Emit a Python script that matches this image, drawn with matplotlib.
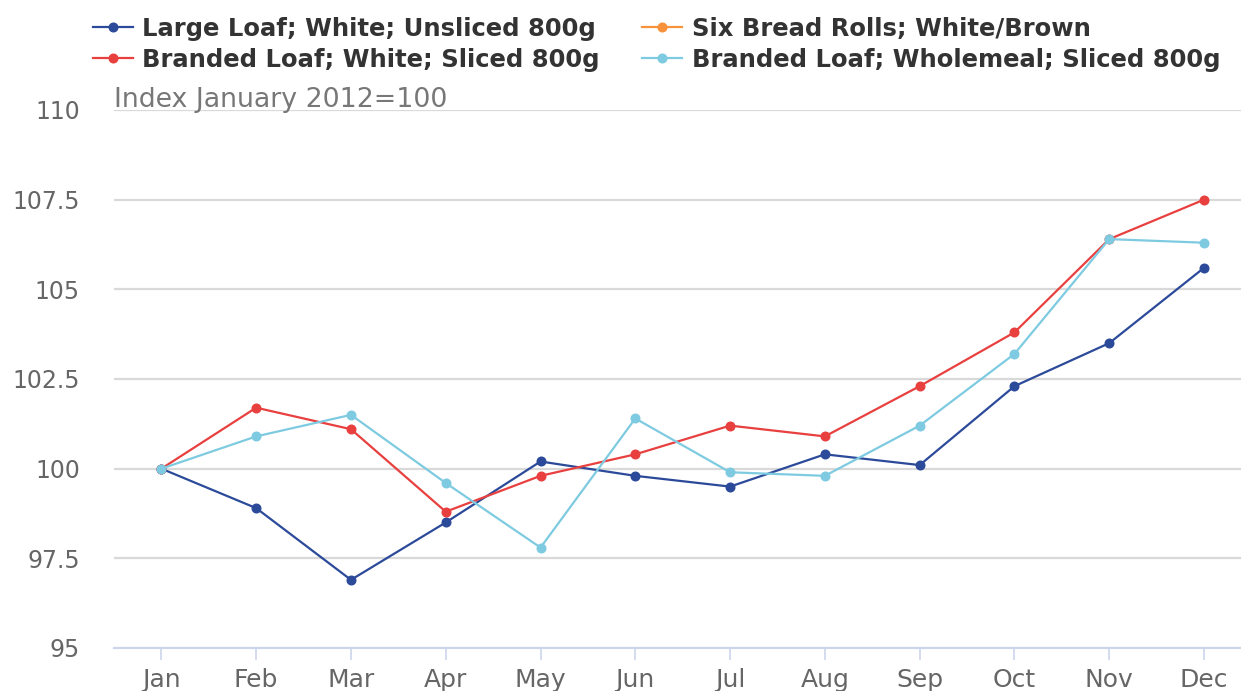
import matplotlib.pyplot as plt
import numpy as np

months = ['Jan', 'Feb', 'Mar', 'Apr', 'May', 'Jun', 'Jul', 'Aug', 'Sep', 'Oct', 'Nov', 'Dec']

large_white_unsliced = [100.0, 98.9, 96.9, 98.5, 100.2, 99.8, 99.5, 100.4, 100.1, 102.3, 103.5, 105.6]
six_bread_rolls = [np.nan] * 12  # no values published for this series
branded_white_sliced = [100.0, 101.7, 101.1, 98.8, 99.8, 100.4, 101.2, 100.9, 102.3, 103.8, 106.4, 107.5]
branded_wholemeal_sliced = [100.0, 100.9, 101.5, 99.6, 97.8, 101.4, 99.9, 99.8, 101.2, 103.2, 106.4, 106.3]

yticks = [95, 97.5, 100, 102.5, 105, 107.5, 110]
ytick_labels = ['95', '97.5', '100', '102.5', '105', '107.5', '110']

colors = ['#2c4a9a', '#f7923a', '#e8403f', '#7ecbe1']
names = ['Large Loaf; White; Unsliced 800g', 'Six Bread Rolls; White/Brown',
         'Branded Loaf; White; Sliced 800g', 'Branded Loaf; Wholemeal; Sliced 800g']
series = [large_white_unsliced, six_bread_rolls, branded_white_sliced, branded_wholemeal_sliced]

fig = plt.figure(figsize=(12.41, 6.91), dpi=100)
ax = fig.add_axes([114 / 1241, 1 - 648 / 691, 1 - 114 / 1241, (648 - 110) / 691])

x = np.arange(len(months))
handles = []
for name, vals, c in zip(names, series, colors):
    h, = ax.plot(x, vals, color=c, linewidth=1.6, marker='o', markersize=6.2, label=name)
    handles.append(h)

ax.set_ylim(95, 110)
ax.set_xlim(-0.5, 11.39)
ax.set_yticks(yticks)
ax.set_yticklabels(ytick_labels)
ax.set_xticks(x)
ax.set_xticklabels(months)

ax.grid(axis='y', color='#d9d9d9', linewidth=1.6)
ax.set_axisbelow(True)
for s in ['top', 'right', 'left']:
    ax.spines[s].set_visible(False)
ax.spines['bottom'].set_color('#ccd6eb')
ax.spines['bottom'].set_linewidth(1.5)

ax.tick_params(axis='y', length=0, pad=24.5, labelsize=17, labelcolor='#666666')
ax.tick_params(axis='x', length=8.6, width=1.2, color='#ccd6eb', pad=6,
               labelsize=18, labelcolor='#666666')

fig.text(114 / 1241, 1 - 100 / 691, 'Index January 2012=100', fontsize=19.3,
         color='#777777', va='center', ha='left')

# legend: left column then right column
order = [0, 2, 1, 3]
fig.legend([handles[i] for i in order], [names[i] for i in order], ncol=2,
           loc='upper left', bbox_to_anchor=(0.0572, 1.0077), frameon=False,
           prop={'weight': 'bold', 'size': 17.5}, labelcolor='#333333',
           handlelength=1.65, handletextpad=0.38, columnspacing=1.75,
           labelspacing=0.3)

fig.savefig('out.png', dpi=100)
